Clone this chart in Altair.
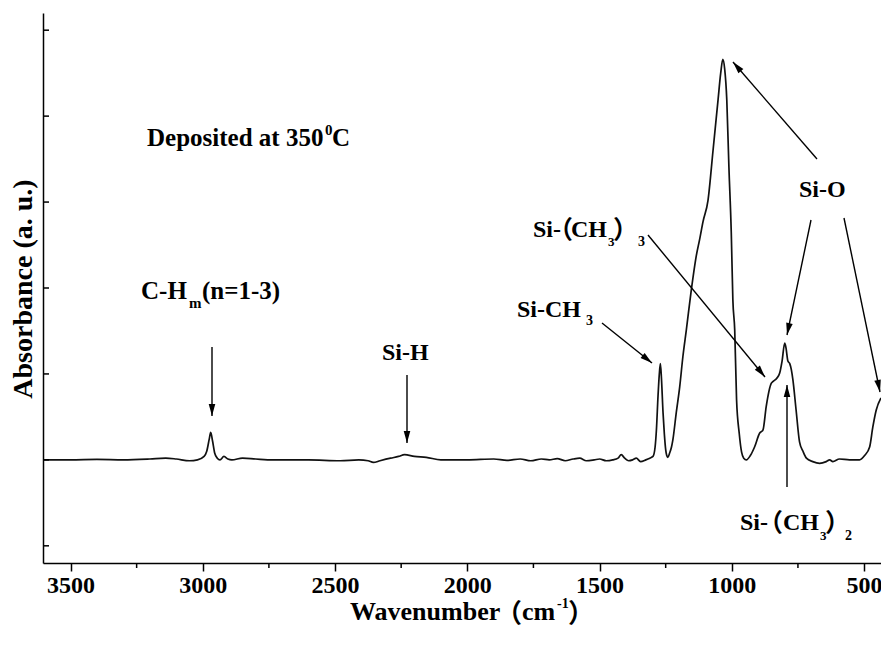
import math
import altair as alt
import pandas as pd

# FTIR absorbance spectrum of the film deposited at 350 °C
wavenumber = [
    3604, 3500, 3400, 3300, 3200, 3140, 3100, 3050, 3020, 2995, 2985, 2975,
    2970, 2963, 2955, 2945, 2935, 2920, 2905, 2890, 2850, 2800, 2735, 2600,
    2480, 2410, 2375, 2355, 2330, 2290, 2260, 2237, 2200, 2155, 2100, 2000,
    1900, 1850, 1800, 1760, 1720, 1690, 1660, 1630, 1600, 1575, 1550, 1520,
    1500, 1475, 1450, 1430, 1418, 1405, 1390, 1375, 1361, 1345, 1325, 1310,
    1298, 1290, 1285, 1279, 1274, 1270, 1266, 1260, 1255, 1250, 1246, 1242,
    1235, 1228, 1223, 1210, 1197, 1185, 1172, 1153, 1134, 1122, 1109, 1090,
    1071, 1052, 1042, 1034, 1027, 1019, 1011, 1002, 996, 989, 982, 972,
    963, 955, 945, 930, 914, 895, 882, 870, 851, 845, 830, 819,
    810, 800, 795, 788, 781, 775, 769, 757, 744, 731, 718, 694,
    668, 643, 630, 618, 593, 555, 517, 498, 479, 467, 454, 436,
]
absorbance = [
    0.00, 0.00, 0.005, 0.00, 0.01, 0.02, 0.01, -0.01, 0.00, 0.04, 0.10, 0.25,
    0.32, 0.22, 0.08, 0.02, 0.00, 0.04, 0.01, 0.00, 0.02, 0.01, 0.00, 0.00,
    -0.01, 0.00, -0.01, -0.03, -0.01, 0.02, 0.04, 0.06, 0.04, 0.03, 0.00, 0.00,
    0.01, -0.005, 0.01, -0.01, 0.01, 0.00, 0.015, -0.01, 0.01, 0.02, -0.01, 0.00,
    0.01, -0.01, 0.00, 0.02, 0.06, 0.02, -0.01, 0.00, 0.02, -0.02, 0.00, 0.02,
    0.04, 0.15, 0.35, 0.74, 1.00, 1.12, 0.95, 0.55, 0.30, 0.12, 0.05, 0.03,
    0.08, 0.15, 0.23, 0.55, 0.85, 1.20, 1.51, 1.98, 2.38, 2.56, 2.77, 3.02,
    3.60, 4.19, 4.50, 4.66, 4.55, 4.19, 3.41, 2.64, 1.86, 1.51, 0.70, 0.31,
    0.09, 0.02, 0.00, 0.05, 0.15, 0.31, 0.35, 0.62, 0.89, 0.91, 0.95, 1.01,
    1.15, 1.36, 1.30, 1.15, 1.12, 1.05, 0.93, 0.58, 0.21, 0.10, 0.02, -0.02,
    -0.04, -0.02, 0.00, -0.02, 0.01, 0.00, 0.00, 0.05, 0.15, 0.38, 0.58, 0.72,
]

x_major = [3500, 3000, 2500, 2000, 1500, 1000, 500]
x_minor = [3250, 2750, 2250, 1750, 1250, 750]
y_ticks = [-1, 0, 1, 2, 3, 4, 5]

# layout (pixels)
LEFT, TOP = 43, 13
W, H = 838, 550
SERIF = "Liberation Serif"
CJK = "Noto Sans CJK SC"

x_scale = alt.Scale(domain=[436, 3604], reverse=True, nice=False, zero=False)
y_scale = alt.Scale(domain=[-1.2, 5.2], nice=False, zero=False)

# one axis definition shared by every layer that uses the scale
x_axis = alt.Axis(values=x_major, format="d", title=None, grid=False,
                  tickSize=8, tickWidth=1.5, tickColor="black",
                  domainColor="black", domainWidth=1.5,
                  labelFont=SERIF, labelFontWeight="bold",
                  labelFontSize=24, labelColor="black",
                  labelPadding=2, labelFlush=False)
y_axis = alt.Axis(labels=False, ticks=False, title=None, grid=False,
                  domainColor="black", domainWidth=1.5)

spec = pd.DataFrame({"wn": wavenumber, "ab": absorbance})

line = alt.Chart(spec).mark_line(color="#111111", strokeWidth=1.7,
                                 interpolate="monotone").encode(
    x=alt.X("wn:Q", scale=x_scale, axis=x_axis),
    y=alt.Y("ab:Q", scale=y_scale, axis=y_axis),
)

# short minor ticks between the labelled ones
minor = alt.Chart(pd.DataFrame({"wn": x_minor})).mark_rule(
    color="black", strokeWidth=1.5).encode(
    x=alt.X("wn:Q", scale=x_scale, axis=x_axis),
    y=alt.value(H), y2=alt.value(H + 5),
)

# inward ticks on the absorbance axis
yticks = alt.Chart(pd.DataFrame({"ab": y_ticks})).mark_rule(
    color="black", strokeWidth=1.5).encode(
    y=alt.Y("ab:Q", scale=y_scale, axis=y_axis),
    x=alt.value(0), x2=alt.value(6),
)


def px(x):
    return x - LEFT


def py(y):
    return y - TOP


# annotation texts: (text, left x, baseline y, font size) on the page
serif_texts = [
    ("Deposited at 350", 147, 146, 25), ("0", 325, 135, 15), ("C", 332, 146, 25),
    ("C-H", 141, 299, 25), ("m", 189, 308, 15), ("(n=1-3)", 202, 299, 25),
    ("Si-H", 382, 360, 24),
    ("Si-CH", 517, 317, 24), ("3", 586, 325, 14),
    ("Si-", 533, 237, 24), ("CH", 571, 237, 24), ("3", 608, 246, 13), ("3", 638, 246, 14),
    ("Si-O", 799, 197, 24),
    ("Si-", 740, 530, 24), ("CH", 783, 530, 24), ("3", 820, 540, 13), ("2", 845, 540, 14),
    ("Wavenumber", 350, 620, 26), ("cm", 522, 620, 26), ("-1", 557, 608, 14),
]
paren_texts = [
    ("（", 548, 239, 25), ("）", 613, 239, 25),
    ("（", 758, 532, 25), ("）", 825, 532, 25),
    ("（", 496, 622, 26), ("）", 568, 622, 26),
]


def text_frame(rows):
    return pd.DataFrame({
        "t": [r[0] for r in rows],
        "x": [px(r[1]) for r in rows],
        "y": [py(r[2]) for r in rows],
        "fs": [r[3] for r in rows],
    })


def text_layer(rows, font, weight):
    return alt.Chart(text_frame(rows)).mark_text(
        align="left", baseline="alphabetic", font=font, fontWeight=weight,
        color="black").encode(
        x=alt.X("x:Q", scale=None), y=alt.Y("y:Q", scale=None),
        size=alt.Size("fs:Q", scale=None, legend=None), text="t:N",
    )


labels = text_layer(serif_texts, SERIF, "bold")
parens = text_layer(paren_texts, CJK, "bold")

ytitle = alt.Chart(pd.DataFrame({"t": ["Absorbance (a. u.)"]})).mark_text(
    angle=270, align="center", baseline="middle", font=SERIF,
    fontWeight="bold", fontSize=28, color="black").encode(
    x=alt.value(px(24)), y=alt.value(py(289)), text="t:N")

# arrows: (start x, start y, tip x, tip y) on the page
arrows = [
    (212, 347, 212, 416),
    (407, 375, 407, 443),
    (602, 323, 652, 363),
    (648, 235, 765, 377),
    (817, 159, 733, 62),
    (811, 220, 787, 335),
    (844, 218, 880, 392),
    (787, 487, 787, 385),
]
arrow_df = pd.DataFrame({
    "x1": [px(a[0]) for a in arrows], "y1": [py(a[1]) for a in arrows],
    "x2": [px(a[2]) for a in arrows], "y2": [py(a[3]) for a in arrows],
    "ang": [(math.degrees(math.atan2(a[2] - a[0], -(a[3] - a[1])))) % 360
            for a in arrows],
})

shafts = alt.Chart(arrow_df).mark_rule(color="black", strokeWidth=1.4).encode(
    x=alt.X("x1:Q", scale=None), y=alt.Y("y1:Q", scale=None),
    x2="x2:Q", y2="y2:Q",
)
heads = alt.Chart(arrow_df).mark_point(
    shape="M0,0L-0.3,1.1L0.3,1.1Z", filled=True, color="black", opacity=1,
    size=480, strokeWidth=0).encode(
    x=alt.X("x2:Q", scale=None), y=alt.Y("y2:Q", scale=None),
    angle=alt.Angle("ang:Q", scale=None),
)

chart = alt.layer(
    line, minor, yticks, shafts, heads, labels, parens, ytitle
).properties(
    width=W, height=H,
    autosize=alt.AutoSizeParams(type="none"),
    padding={"left": LEFT, "top": TOP, "right": 0, "bottom": 645 - TOP - H},
    background="white",
).configure_view(stroke=None)

chart.save("out.html", embed_options={"renderer": "svg", "actions": False})
